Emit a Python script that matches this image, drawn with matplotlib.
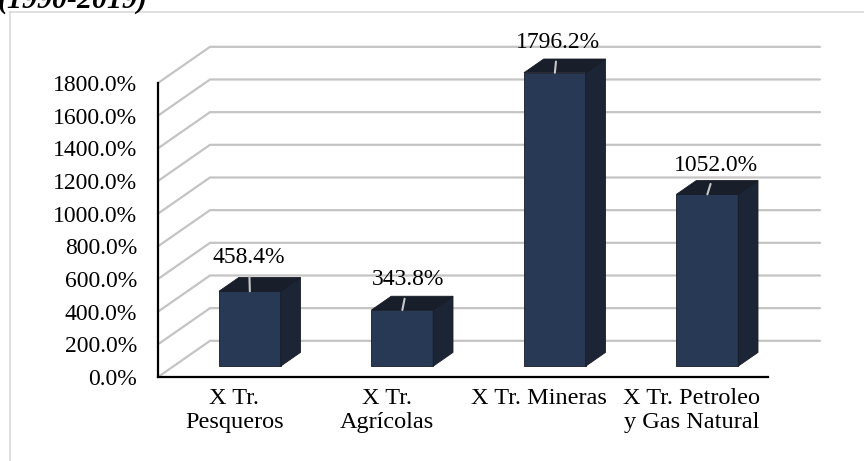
import matplotlib.pyplot as plt
from matplotlib.patches import Polygon
from matplotlib.lines import Line2D
import numpy as np

# datos
categories = ['X Tr.\nPesqueros', 'X Tr.\nAgrícolas', 'X Tr. Mineras',
              'X Tr. Petroleo\ny Gas Natural']
values = [458.4, 343.8, 1796.2, 1052.0]
yticks = np.arange(0, 1801, 200)
title = '(1990-2019)'

plt.rcParams['font.family'] = ['Liberation Serif', 'DejaVu Serif']

W, H = 864, 461
fig = plt.figure(figsize=(W / 100, H / 100), dpi=100)
ax = fig.add_axes([158 / W, 84 / H, 610 / W, 294 / H])
ax.set_xlim(0, 4)
ax.set_ylim(0, 1800)

# proyeccion oblicua: d = profundidad (0 frente, 1 fondo)
DX, DY = 0.341, 221.5


def proj(x, v, d):
    return (x + DX * d, v + DY * d)


# rejilla: pared lateral + pared de fondo
for v in yticks:
    pts = np.array([proj(0, v, 0), proj(0, v, 1), proj(4, v, 1)])
    ax.plot(pts[:, 0], pts[:, 1], color='#c4c4c4', lw=1.6,
            clip_on=False, zorder=1, solid_capstyle='round')

# barras 3D
bw, d0, d1 = 0.405, 0.3, 0.68
c_front, c_side, c_top = '#283955', '#1c2536', '#181e2a'
for i, v in enumerate(values):
    xl = i + 0.5 - bw / 2
    xr = xl + bw
    front = [proj(xl, 0, d0), proj(xr, 0, d0), proj(xr, v, d0), proj(xl, v, d0)]
    side = [proj(xr, 0, d0), proj(xr, 0, d1), proj(xr, v, d1), proj(xr, v, d0)]
    top = [proj(xl, v, d0), proj(xr, v, d0), proj(xr, v, d1), proj(xl, v, d1)]
    for poly, col in [(front, c_front), (side, c_side), (top, c_top)]:
        ax.add_patch(Polygon(poly, closed=True, facecolor=col,
                             edgecolor='#161b26', lw=0.6,
                             clip_on=False, zorder=3))

# etiquetas de datos con linea guia
label_offsets = [(-1, 34), (6, 30), (3, 30), (9, 29)]
for i, v in enumerate(values):
    ax.annotate(f'{v:.1f}%', xy=proj(i + 0.5, v, d0),
                xytext=label_offsets[i], textcoords='offset pixels',
                ha='center', va='center', fontsize=17,
                annotation_clip=False, zorder=5,
                arrowprops=dict(arrowstyle='-', color='#c8c8c8', lw=1.5,
                                shrinkA=4, shrinkB=0))

# ejes
for side in ['top', 'right']:
    ax.spines[side].set_visible(False)
for side in ['left', 'bottom']:
    ax.spines[side].set_color('black')
    ax.spines[side].set_linewidth(1.6)
ax.set_yticks(yticks)
ax.set_yticklabels([f'{t:.1f}%' for t in yticks], fontsize=17)
ax.set_xticks(np.arange(len(categories)) + 0.5)
ax.set_xticklabels(categories, fontsize=17.5)
ax.tick_params(axis='y', length=0, pad=15)
ax.tick_params(axis='x', length=0, pad=8)
ax.patch.set_visible(False)

# marco del grafico
fig.add_artist(Line2D([10 / W, 1], [1 - 12 / H, 1 - 12 / H],
                      transform=fig.transFigure, color='#d9d9d9', lw=1.2))
fig.add_artist(Line2D([10 / W, 10 / W], [0, 1 - 12 / H],
                      transform=fig.transFigure, color='#d9d9d9', lw=1.2))

fig.text(-2 / W, 1 - 8 / H, title, fontsize=21.5, fontweight='bold',
         fontstyle='italic', ha='left', va='baseline')

fig.savefig('out.png', dpi=100)
